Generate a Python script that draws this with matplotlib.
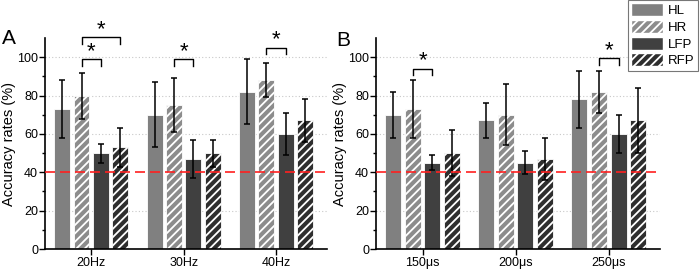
import matplotlib
matplotlib.use("Agg")
import matplotlib.pyplot as plt
import numpy as np
from matplotlib.patches import Patch

plt.rcParams['font.family'] = ['Liberation Sans', 'DejaVu Sans']
plt.rcParams['hatch.linewidth'] = 1.3

series = ["HL", "HR", "LFP", "RFP"]
cats_a = ["20Hz", "30Hz", "40Hz"]
cats_b = ["150\u03bcs", "200\u03bcs", "250\u03bcs"]

vals_a = {"HL": [73, 70, 82], "HR": [80, 75, 88], "LFP": [50, 47, 60], "RFP": [53, 50, 67]}
errs_a = {"HL": [15, 17, 17], "HR": [12, 14, 9], "LFP": [5, 10, 11], "RFP": [10, 7, 11]}
vals_b = {"HL": [70, 67, 78], "HR": [73, 70, 82], "LFP": [45, 45, 60], "RFP": [50, 47, 67]}
errs_b = {"HL": [12, 9, 15], "HR": [15, 16, 11], "LFP": [4, 6, 10], "RFP": [12, 11, 17]}

# significance brackets: (group index, series from, series to, bracket height)
sig_a = [(0, 1, 2, 99), (0, 1, 3, 110.5), (1, 1, 2, 99), (2, 1, 2, 105)]
sig_b = [(0, 1, 2, 94), (2, 1, 2, 99.5)]

colors = {"HL": "#808080", "HR": "#8c8c8c", "LFP": "#404040", "RFP": "#2e2e2e"}
hatches = {"HL": None, "HR": "////", "LFP": None, "RFP": "////"}

fig = plt.figure(figsize=(7, 2.7), dpi=100)
ax_a = fig.add_axes([45/700, 1-249/270, (327-45)/700, (249-38)/270])
ax_b = fig.add_axes([376/700, 1-249/270, (660-376)/700, (249-38)/270])

bw = 0.172
pitch = 0.21
offsets = [(-1.5 + i) * pitch for i in range(4)]

def draw(ax, cats, vals, errs, sigs):
    x = np.arange(1, len(cats) + 1)
    for i, s in enumerate(series):
        ax.bar(x + offsets[i], vals[s], width=bw, color=colors[s],
               edgecolor="white", linewidth=0.6, hatch=hatches[s], zorder=2)
        ax.errorbar(x + offsets[i], vals[s], yerr=errs[s], fmt="none",
                    ecolor="black", elinewidth=1.1, capsize=2.5, capthick=1.1, zorder=3)
    ax.axhline(40, color="#ff2020", ls=(0, (6, 3)), lw=1.2, zorder=4)
    for yv in [20, 60, 80, 100]:
        ax.axhline(yv, color="#c8c8c8", ls=(0, (1, 2)), lw=0.8, zorder=1)
    for g, a, b, h in sigs:
        xa = x[g] + offsets[a]
        xb = x[g] + offsets[b]
        ax.plot([xa, xa, xb, xb], [h - 3.5, h, h, h - 3.5], color="black", lw=1.0,
                clip_on=False, zorder=5)
        ax.text((xa + xb) / 2, h - 1.5, "*", ha="center", va="bottom", fontsize=16,
                clip_on=False)
    ax.set_xlim(0.5, 3.55)
    ax.set_ylim(0, 110)
    ax.set_xticks(x)
    ax.set_xticklabels(cats, fontsize=9)
    ax.set_yticks([0, 20, 40, 60, 80, 100])
    ax.set_yticks([10, 30, 50, 70, 90], minor=True)
    ax.tick_params(axis="y", which="major", labelsize=9, length=4, width=1, pad=1)
    ax.tick_params(axis="y", which="minor", length=2, width=1)
    ax.tick_params(axis="x", which="major", length=4, width=1, pad=2)
    ax.spines["top"].set_visible(False)
    ax.spines["right"].set_visible(False)
    ax.spines["left"].set_linewidth(1.2)
    ax.spines["bottom"].set_linewidth(1.2)
    ax.set_ylabel("Accuracy rates (%)", fontsize=10.5, labelpad=1)

draw(ax_a, cats_a, vals_a, errs_a, sig_a)
draw(ax_b, cats_b, vals_b, errs_b, sig_b)

fig.text(2/700, 1-38/270, "A", fontsize=15, ha="left", va="center")
fig.text(336/700, 1-40/270, "B", fontsize=15, ha="left", va="center")

handles = [Patch(facecolor=colors[s], edgecolor="white", hatch=hatches[s], label=s) for s in series]
leg = fig.legend(handles=handles, loc="upper right", bbox_to_anchor=(698/700, 1.0),
                 fontsize=9.5, frameon=True, fancybox=False, edgecolor="#555555",
                 handlelength=2.4, handleheight=1.15, borderpad=0.25, labelspacing=0.2,
                 handletextpad=0.4, borderaxespad=0.0)
leg.get_frame().set_linewidth(0.8)

fig.savefig("out.png", dpi=100)
